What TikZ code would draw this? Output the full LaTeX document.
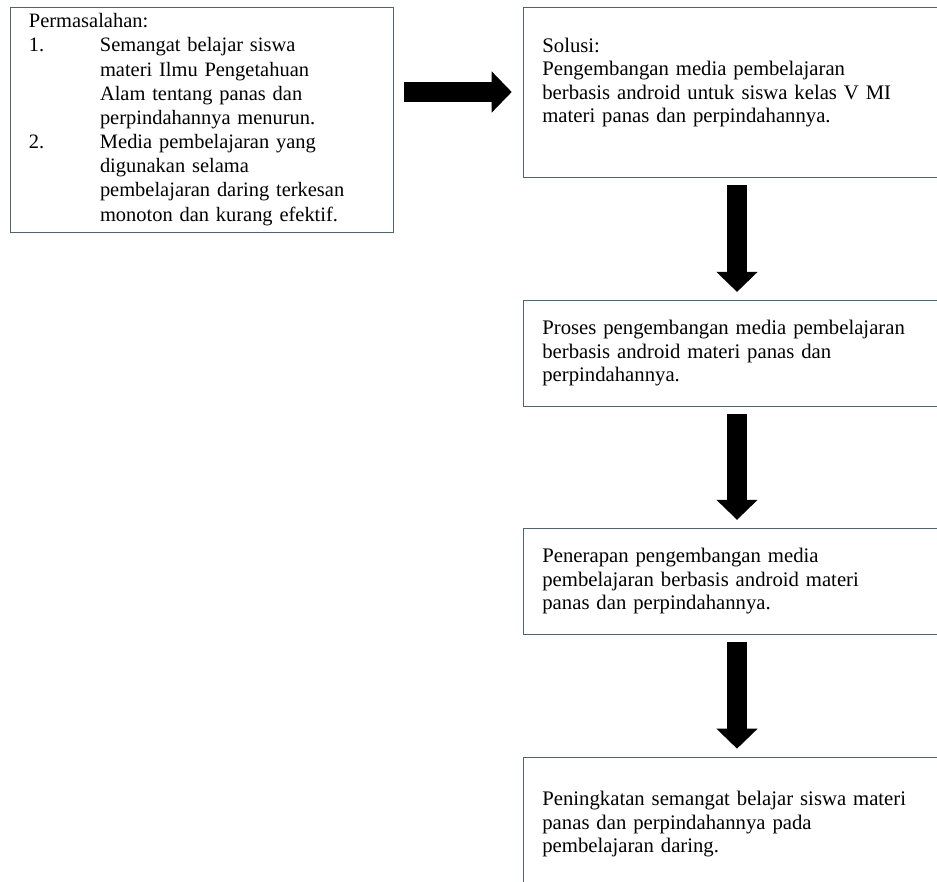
\documentclass[tikz,border=0pt]{standalone}
\usepackage{fontspec}
\setmainfont{Liberation Serif}
\usepackage{tikz}
\usetikzlibrary{arrows.meta}
\definecolor{boxline}{RGB}{80,100,110}
\tikzstyle{stage} = [draw=boxline, rectangle, line width=0.6pt,
minimum width=11.8cm, text width=10.78cm, align=left, inner xsep=0.5cm,
font=\fontsize{15.6}{17.6}\selectfont]
\tikzstyle{problem} = [draw=boxline, rectangle, line width=0.6pt,
minimum width=10.13cm, minimum height=5.95cm, text width=9.13cm, align=left,
inner xsep=0.5cm, font=\fontsize{15.4}{18.2}\selectfont]
\tikzstyle{bigarrow} = [->, line width=0.53cm, shorten >=0.21cm, shorten <=0.21cm]

\begin{document}
\begin{tikzpicture}[auto, node distance=6.91cm, >={Triangle[length=0.53cm,width=1.06cm]}]

\path [use as bounding box, clip] (0,0) rectangle (24.791,-23.310);

\node [stage, minimum height=4.5cm] at (19.74,-2.434) (sol) {Solusi:\\Pengembangan  media pembelajaran\\berbasis android untuk siswa kelas V MI\\materi panas dan perpindahannya.\\\mbox{}};
\node [stage, below of=sol, minimum height=2.8cm] (dev) {Proses pengembangan media pembelajaran\\berbasis android materi panas dan\\perpindahannya.};
\node [stage, below of=dev, node distance=6.03cm, minimum height=2.8cm] (apply) {Penerapan pengembangan media\\pembelajaran berbasis android materi\\panas dan perpindahannya.};
\node [stage, below of=apply, node distance=6.43cm, minimum height=3.55cm] (result) {Peningkatan semangat belajar siswa materi\\panas dan perpindahannya pada\\pembelajaran daring.};

\node [problem] at (5.331,-3.162) (prob) {Permasalahan:\\
\makebox[1.88cm][l]{1.}Semangat belajar siswa\\
\hspace*{1.88cm}materi Ilmu Pengetahuan\\
\hspace*{1.88cm}Alam tentang panas dan\\
\hspace*{1.88cm}perpindahannya menurun.\\
\makebox[1.88cm][l]{2.}Media pembelajaran yang\\
\hspace*{1.88cm}digunakan selama\\
\hspace*{1.88cm}pembelajaran daring terkesan\\
\hspace*{1.88cm}monoton dan kurang efektif.};

\draw [bigarrow, shorten <=0.29cm, shorten >=0.29cm] (prob.east |- sol.west) -- (sol.west);
\draw [bigarrow] ([xshift=-0.24cm]sol.south) -- ([xshift=-0.24cm]dev.north);
\draw [bigarrow] ([xshift=-0.24cm]dev.south) -- ([xshift=-0.24cm]apply.north);
\draw [bigarrow] ([xshift=-0.24cm]apply.south) -- ([xshift=-0.24cm]result.north);
\end{tikzpicture}
\end{document}
